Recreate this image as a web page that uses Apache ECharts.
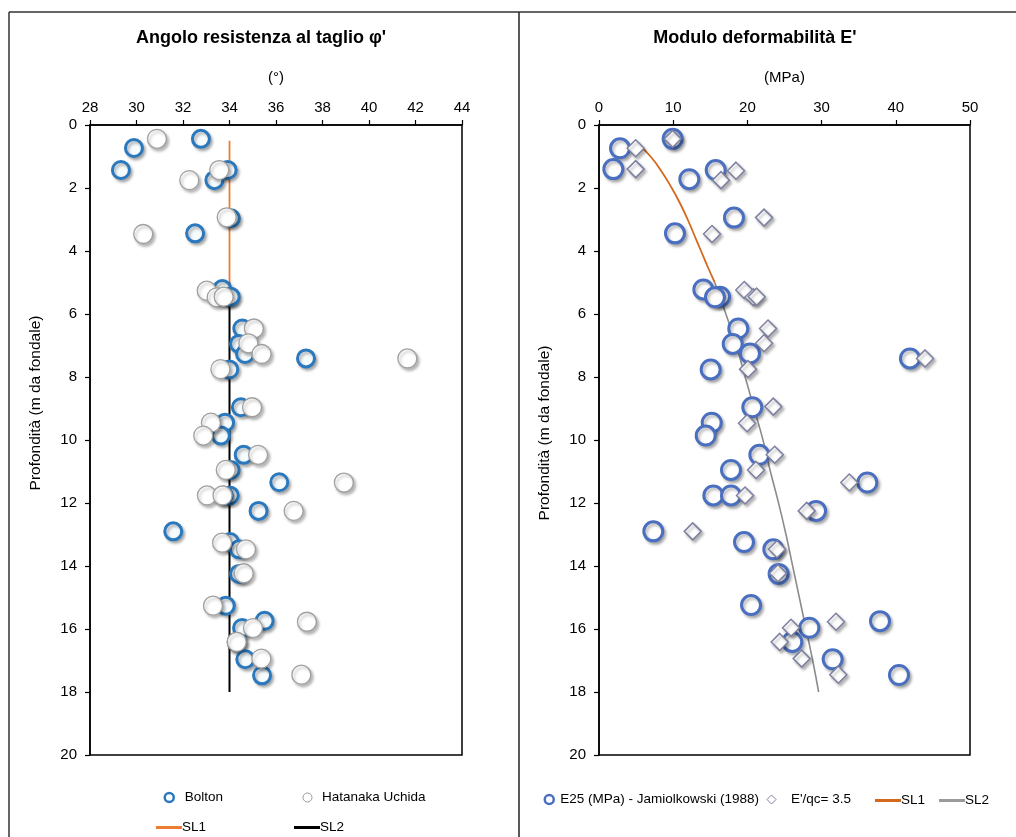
<!DOCTYPE html>
<html>
<head>
<meta charset="utf-8">
<script src="https://cdn.jsdelivr.net/npm/echarts@6/dist/echarts.min.js"></script>
<style>
  html, body { margin: 0; padding: 0; background: #fff; }
  #chart { width: 1016px; height: 837px; }
</style>
</head>
<body>
<div id="chart"></div>
<script>
// Angolo di resistenza al taglio (gradi) vs profondità (m)
const boltonDepth = [0.44, 0.73, 1.43, 1.43, 1.75, 2.96, 3.44, 5.21, 5.45, 5.45, 6.46, 6.95, 7.27, 7.41, 7.76, 8.96, 9.45, 9.86, 10.47, 10.95, 11.34, 11.76, 11.76, 12.25, 12.90, 13.24, 13.47, 14.25, 15.26, 15.74, 15.97, 16.41, 16.96, 17.47];
const boltonPhi   = [32.77, 29.89, 29.33, 33.92, 33.35, 34.06, 32.52, 33.69, 33.95, 34.05, 34.55, 34.41, 34.67, 37.29, 33.99, 34.49, 33.81, 33.63, 34.61, 34.05, 36.14, 34.01, 33.75, 35.25, 31.58, 34.02, 34.41, 34.41, 33.84, 35.51, 34.54, 34.31, 34.68, 35.40];

const hatanakaDepth = [0.44, 1.43, 1.75, 2.93, 3.46, 5.26, 5.47, 5.45, 6.46, 6.93, 7.27, 7.41, 7.75, 8.96, 9.45, 9.86, 10.47, 10.95, 11.35, 11.76, 11.76, 12.25, 13.26, 13.47, 14.23, 15.26, 15.77, 15.97, 16.41, 16.94, 17.45];
const hatanakaPhi   = [30.88, 33.56, 32.27, 33.88, 30.29, 33.02, 33.45, 33.75, 35.05, 34.81, 35.38, 41.65, 33.61, 34.97, 33.20, 32.87, 35.23, 33.84, 38.92, 33.03, 33.70, 36.76, 33.68, 34.71, 34.61, 33.29, 37.33, 35.01, 34.31, 35.37, 37.09];

const phiSL1Depth = [0.5, 5.0];
const phiSL1 = [34, 34];
const phiSL2Depth = [5.0, 18.0];
const phiSL2 = [34, 34];

// Modulo di deformabilità (MPa) vs profondità (m)
const e25Depth = [0.44, 0.74, 1.40, 1.43, 1.72, 2.94, 3.44, 5.22, 5.45, 5.47, 6.46, 6.95, 7.25, 7.41, 7.76, 8.96, 9.45, 9.86, 10.47, 10.95, 11.35, 11.76, 11.76, 12.25, 12.90, 13.24, 13.47, 14.25, 15.24, 15.75, 15.96, 16.41, 16.96, 17.46];
const e25Value = [9.93, 2.83, 1.93, 15.73, 12.17, 18.19, 10.24, 14.06, 16.31, 15.63, 18.77, 18.02, 20.35, 41.91, 15.05, 20.66, 15.19, 14.38, 21.61, 17.79, 36.16, 15.41, 17.79, 29.25, 7.32, 19.54, 23.49, 24.21, 20.49, 37.87, 28.35, 26.05, 31.49, 40.43];

const eqcDepth = [0.44, 0.74, 1.40, 1.45, 1.75, 2.94, 3.46, 5.24, 5.47, 5.45, 6.46, 6.93, 7.41, 7.75, 8.94, 9.47, 10.47, 10.95, 11.35, 11.76, 12.25, 12.90, 13.47, 14.23, 15.77, 15.96, 16.41, 16.94, 17.45];
const eqcValue = [9.93, 4.94, 4.94, 18.46, 16.44, 22.24, 15.23, 19.58, 20.80, 21.25, 22.78, 22.24, 43.94, 20.08, 23.49, 19.95, 23.68, 21.16, 33.73, 19.68, 27.99, 12.63, 23.99, 24.12, 31.94, 25.88, 24.35, 27.31, 32.25];

const eSL1Depth = [0.5, 1.0, 1.5, 2.0, 2.5, 3.0, 3.5, 4.0, 4.5, 5.0];
const eSL1 = [4.85, 6.95, 8.5, 9.8, 10.95, 11.95, 12.85, 13.75, 14.65, 15.6];
const eSL2Depth = [5, 6, 7, 8, 9, 10, 11, 12, 13, 14, 15, 16, 17, 18];
const eSL2 = [15.6, 17.1, 18.5, 19.7, 20.9, 22.1, 23.1, 24.2, 25.2, 26.1, 27.0, 27.9, 28.8, 29.6];

const phiTicks = [28, 44, 2];
const eTicks = [0, 50, 10];
const depthTicks = [0, 20, 2];

const pairs = (xs, ys) => xs.map((x, i) => [x, ys[i]]);

const FONT = 'Liberation Sans, Arial, sans-serif';
const shadow = { shadowBlur: 3, shadowColor: 'rgba(0,0,0,0.28)', shadowOffsetX: 2, shadowOffsetY: 2.5 };

function xAxisCfg(gridIndex, ticks, name) {
  return {
    gridIndex, type: 'value', position: 'top',
    min: ticks[0], max: ticks[1], interval: ticks[2],
    name, nameLocation: 'middle', nameGap: 40,
    nameTextStyle: { color: '#000', fontSize: 15, fontFamily: FONT },
    axisLine: { show: true, onZero: false, lineStyle: { color: '#000', width: 1.5 } },
    axisTick: { show: true, inside: false, length: 5, lineStyle: { color: '#000', width: 1.2 } },
    axisLabel: { color: '#000', fontSize: 15, fontFamily: FONT, margin: 10 },
    splitLine: { show: false }
  };
}
function yAxisCfg(gridIndex) {
  return {
    gridIndex, type: 'value', inverse: true,
    min: depthTicks[0], max: depthTicks[1], interval: depthTicks[2],
    axisLine: { show: true, onZero: false, lineStyle: { color: '#000', width: 1.5 } },
    axisTick: { show: true, inside: false, length: 5, lineStyle: { color: '#000', width: 1.2 } },
    axisLabel: { color: '#000', fontSize: 15, fontFamily: FONT, margin: 13 },
    splitLine: { show: false }
  };
}

function legendText(pad) {
  return { color: '#000', fontSize: 13.5, fontFamily: FONT, padding: [0, 0, 0, pad] };
}
function markerLegend(name, cx, cy, icon, borderColor, borderWidth, size, pad) {
  return {
    data: [{ name, icon }], left: cx - size / 2, top: cy - size / 2 - 2, padding: 0,
    itemWidth: size, itemHeight: size, itemGap: 0, selectedMode: false,
    itemStyle: { color: '#fff', borderColor, borderWidth, shadowBlur: 0, shadowOffsetX: 0, shadowOffsetY: 0 },
    textStyle: legendText(pad)
  };
}
function lineLegend(name, x0, cy, color) {
  return {
    data: [{ name, icon: 'rect' }], left: x0, top: cy - 5.5, padding: 0,
    itemWidth: 26, itemHeight: 3, itemGap: 0, selectedMode: false,
    itemStyle: { color, borderWidth: 0, shadowBlur: 0 },
    textStyle: legendText(-5)
  };
}

const option = {
  animation: false,
  backgroundColor: '#fff',
  title: [
    { text: "Angolo resistenza al taglio φ'", left: 261, top: 29, textAlign: 'center', padding: 0,
      textStyle: { fontSize: 18, fontWeight: 'bold', color: '#000', fontFamily: FONT } },
    { text: "Modulo deformabilità E'", left: 755, top: 29, textAlign: 'center', padding: 0,
      textStyle: { fontSize: 18, fontWeight: 'bold', color: '#000', fontFamily: FONT } }
  ],
  grid: [
    { left: 90, top: 125, width: 372, height: 630, show: true, borderColor: '#000', borderWidth: 1.5, backgroundColor: 'transparent' },
    { left: 599, top: 125, width: 371, height: 630, show: true, borderColor: '#000', borderWidth: 1.5, backgroundColor: 'transparent' }
  ],
  xAxis: [xAxisCfg(0, phiTicks, '(°)'), xAxisCfg(1, eTicks, '(MPa)')],
  yAxis: [yAxisCfg(0), yAxisCfg(1)],
  legend: [
    markerLegend('Bolton', 168, 797, 'circle', '#2a78bd', 2.5, 9, 6),
    markerLegend('Hatanaka Uchida', 307, 797, 'circle', '#9a9a9a', 1, 9, 5),
    lineLegend('SL1', 156, 826, '#ed7d31'),
    lineLegend('SL2', 294, 826, '#000'),
    markerLegend('E25 (MPa) - Jamiolkowski (1988)', 548, 799, 'circle', '#4a6fc0', 2.5, 9, 1.5),
    markerLegend("E'/qc= 3.5", 771, 799, 'diamond', '#7d80a0', 1, 9, 10),
    lineLegend('SL1 ', 875, 799, '#d4691e'),
    lineLegend('SL2 ', 939, 799, '#9a9a9a')
  ],
  graphic: [
    { type: 'line', shape: { x1: 9, y1: 12, x2: 1016, y2: 12 }, style: { stroke: '#333', lineWidth: 1.5 } },
    { type: 'line', shape: { x1: 9, y1: 12, x2: 9, y2: 837 }, style: { stroke: '#333', lineWidth: 1.5 } },
    { type: 'line', shape: { x1: 519, y1: 12, x2: 519, y2: 837 }, style: { stroke: '#222', lineWidth: 1.5 } },
    { type: 'text', x: 36, y: 403, rotation: Math.PI / 2,
      style: { text: 'Profondità (m da fondale)', fill: '#000', fontSize: 15.5, fontFamily: FONT, align: 'center', verticalAlign: 'middle' } },
    { type: 'text', x: 545, y: 433, rotation: Math.PI / 2,
      style: { text: 'Profondità (m da fondale)', fill: '#000', fontSize: 15.5, fontFamily: FONT, align: 'center', verticalAlign: 'middle' } }
  ],
  series: [
    { name: 'SL1', type: 'line', xAxisIndex: 0, yAxisIndex: 0, data: pairs(phiSL1, phiSL1Depth),
      symbol: 'none', lineStyle: { color: '#ed7d31', width: 1.8 }, itemStyle: { color: '#ed7d31' }, z: 2 },
    { name: 'SL2', type: 'line', xAxisIndex: 0, yAxisIndex: 0, data: pairs(phiSL2, phiSL2Depth),
      symbol: 'none', lineStyle: { color: '#000', width: 2 }, itemStyle: { color: '#000' }, z: 2 },
    { name: 'Bolton', type: 'scatter', xAxisIndex: 0, yAxisIndex: 0, data: pairs(boltonPhi, boltonDepth),
      symbol: 'circle', symbolSize: 17,
      itemStyle: Object.assign({ color: '#f6fbfe', borderColor: '#2a78bd', borderWidth: 3, opacity: 1 }, shadow), z: 3 },
    { name: 'Hatanaka Uchida', type: 'scatter', xAxisIndex: 0, yAxisIndex: 0, data: pairs(hatanakaPhi, hatanakaDepth),
      symbol: 'circle', symbolSize: 19,
      itemStyle: Object.assign({ color: '#ffffff', borderColor: '#a0a0a0', borderWidth: 1.3, opacity: 1 }, shadow), z: 4 },

    { name: 'SL1 ', type: 'line', xAxisIndex: 1, yAxisIndex: 1, data: pairs(eSL1, eSL1Depth),
      symbol: 'none', smooth: true, lineStyle: { color: '#d4691e', width: 1.8 }, itemStyle: { color: '#d4691e' }, z: 2 },
    { name: 'SL2 ', type: 'line', xAxisIndex: 1, yAxisIndex: 1, data: pairs(eSL2, eSL2Depth),
      symbol: 'none', smooth: true, lineStyle: { color: '#8c8c8c', width: 1.6 }, itemStyle: { color: '#8c8c8c' }, z: 2 },
    { name: 'E25 (MPa) - Jamiolkowski (1988)', type: 'scatter', xAxisIndex: 1, yAxisIndex: 1, data: pairs(e25Value, e25Depth),
      symbol: 'circle', symbolSize: 19,
      itemStyle: Object.assign({ color: '#ffffff', borderColor: '#4a6fc0', borderWidth: 3, opacity: 1 }, shadow), z: 3 },
    { name: "E'/qc= 3.5", type: 'scatter', xAxisIndex: 1, yAxisIndex: 1, data: pairs(eqcValue, eqcDepth),
      symbol: 'diamond', symbolSize: 17,
      itemStyle: Object.assign({ color: '#ffffff', borderColor: '#7d80a0', borderWidth: 1.5, opacity: 1 }, shadow), z: 4 }
  ]
};

const chart = echarts.init(document.getElementById('chart'), null, { renderer: 'canvas' });
chart.setOption(option);
</script>
</body>
</html>
